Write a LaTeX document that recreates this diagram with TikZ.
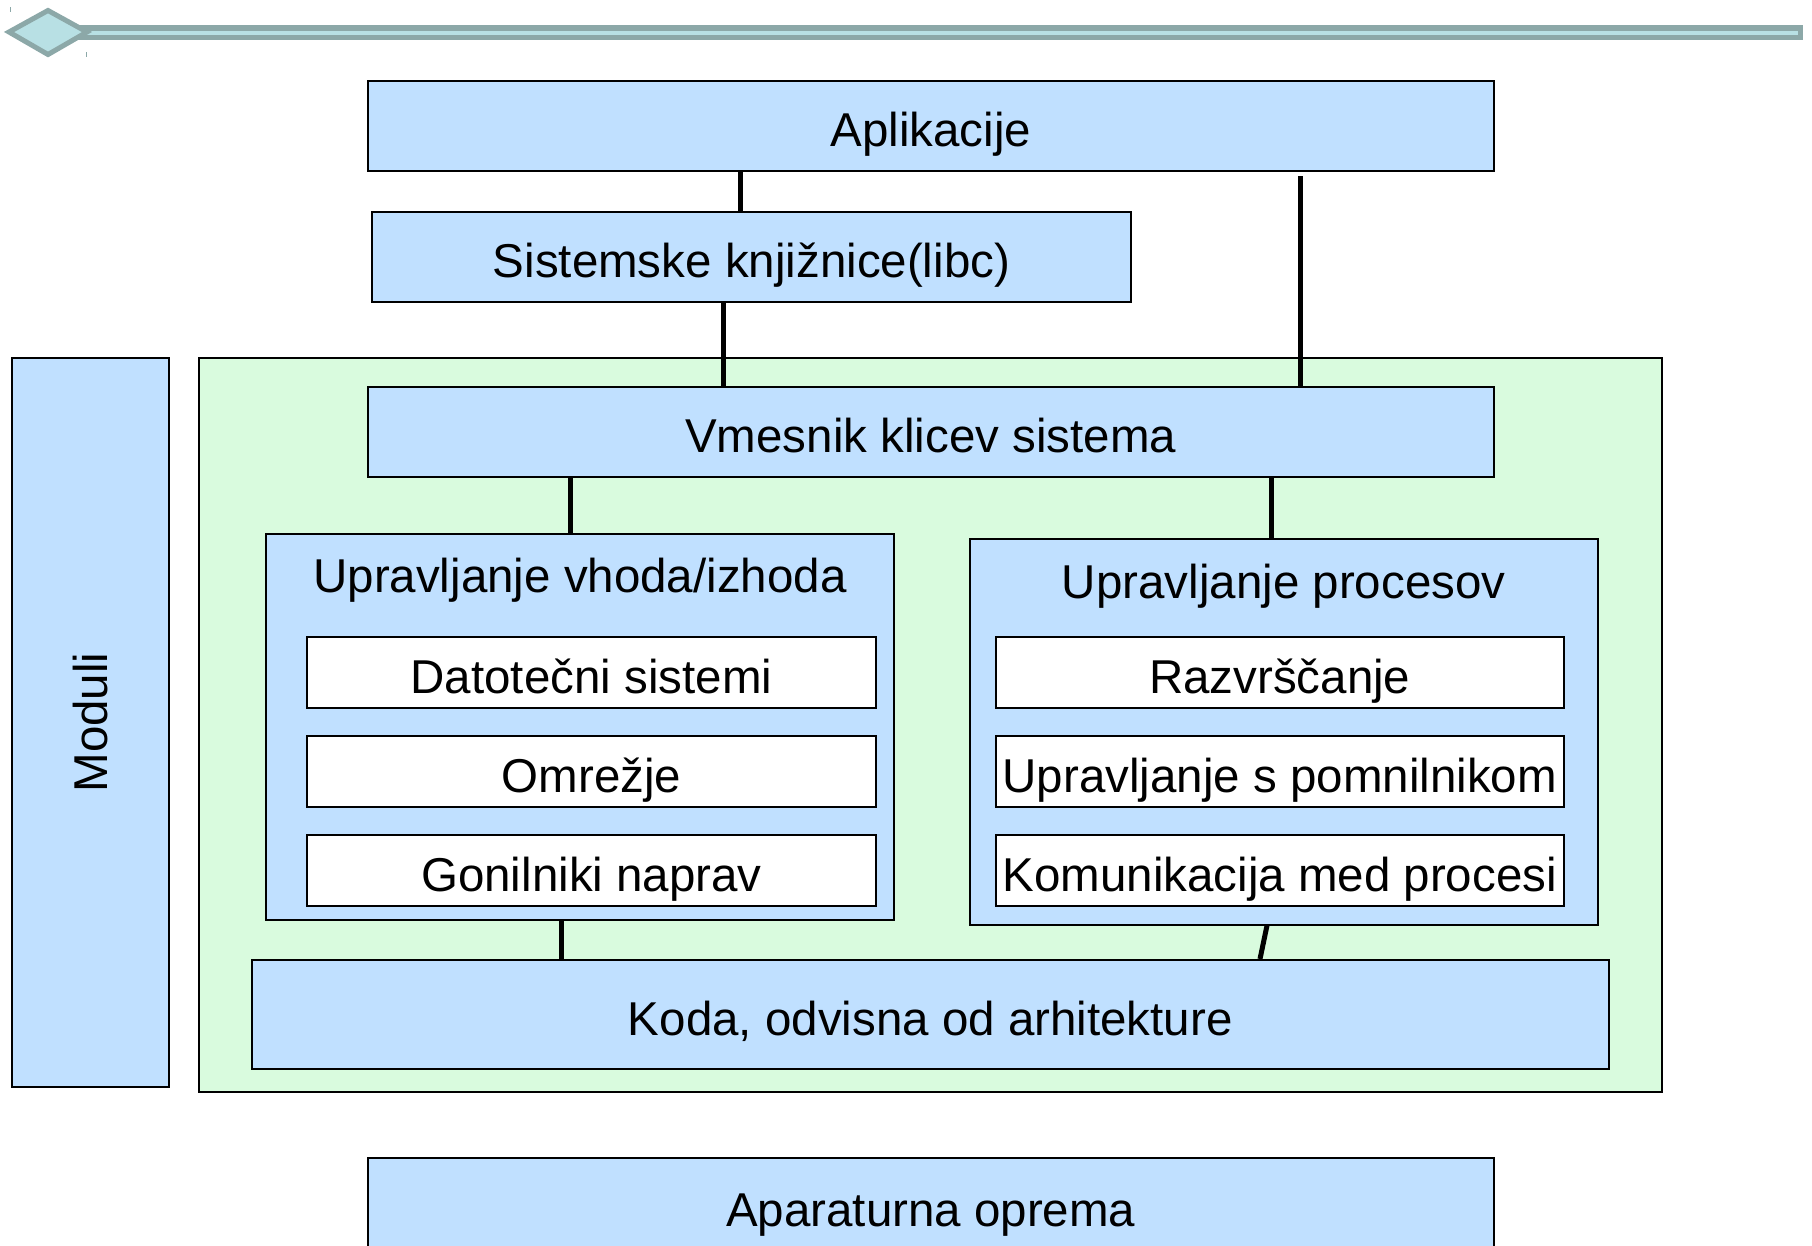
\documentclass[tikz,border=0pt]{standalone}
\usepackage{fontspec}
\setmainfont{Liberation Sans}
\usepackage{tikz}
\usetikzlibrary{positioning}
\usepackage{xcolor}
\definecolor{osblue}{RGB}{192,224,255}
\definecolor{osgreen}{RGB}{217,251,222}
\definecolor{osrule}{RGB}{140,168,168}
\definecolor{osruleLight}{RGB}{184,224,228}
\tikzstyle{layer} = [rectangle, draw=black, fill=osblue, line width=2pt, inner sep=0pt, text height=41pt, text depth=0pt, text centered]
\tikzstyle{module} = [rectangle, draw=black, fill=white, line width=2pt, inner sep=0pt, minimum height=71pt, text height=41pt, text depth=0pt, text centered]
\tikzstyle{link} = [line width=5pt, color=black]

\begin{document}
\begin{tikzpicture}[x=1pt, y=-1pt, node distance=26pt, font=\fontsize{47.5pt}{57pt}\selectfont]
\useasboundingbox (0,0) rectangle (1812,1245);
\clip (0,0) rectangle (1812,1245);
% Slide header
\fill[osrule] (75,25) rectangle (1803,40);
\fill[osruleLight] (80,31) rectangle (1798,35);
\draw[osrule, line width=5pt, fill=osruleLight] (9,32) -- (48,10.5) -- (87,32) -- (48,54.5) -- cycle;
\draw[osrule, line width=0.8pt] (10,7) -- (10,12);
\draw[osrule, line width=0.8pt] (86,52) -- (86,57);

% Kernel
\node (kernel) [rectangle, draw=black, fill=osgreen, line width=2.5pt, minimum width=1463pt, minimum height=734pt] at (930.5,725) {};
\node (moduli) [layer, minimum width=157.5pt, minimum height=729pt] at (90.25,722.5) {};
\node[rotate=90] at (moduli.center) {Moduli};

% Layers
\node (app) [layer, minimum width=1126.5pt, minimum height=90pt] at (930.75,126) {Aplikacije};
\node (libc) [layer, minimum width=759pt, minimum height=90pt] at (751.5,256.5) {Sistemske knjižnice(libc)};
\node (syscall) [layer, minimum width=1126.5pt, minimum height=90pt] at (930.75,432) {Vmesnik klicev sistema};

% I/O
\node (io) [layer, minimum width=628pt, minimum height=386pt] at (580,727) {};
\node at ([yshift=-47pt]io.north) {Upravljanje vhoda/izhoda};
\node (fs) [module, minimum width=569pt] at (591.5,672.5) {Datotečni sistemi};
\node (net) [module, minimum width=569pt, below=of fs] {Omrežje};
\node (drv) [module, minimum width=569pt, below=of net] {Gonilniki naprav};

% Processes
\node (proc) [layer, minimum width=628.5pt, minimum height=386pt] at (1283.75,731.5) {};
\node at ([yshift=-49pt]proc.north) {Upravljanje procesov};
\node (sched) [module, minimum width=567.5pt] at (1279.75,672.5) {Razvrščanje};
\node (mem) [module, minimum width=567.5pt, below=of sched] {Upravljanje s pomnilnikom};
\node (ipc) [module, minimum width=567.5pt, below=of mem] {Komunikacija med procesi};

\node (arch) [layer, minimum width=1356.5pt, minimum height=109pt] at (930.25,1014.5) {Koda, odvisna od arhitekture};
\node (hw) [layer, minimum width=1126.5pt, minimum height=96pt] at (930.75,1206) {Aparaturna oprema};

% Connectors
\draw[link] (app.south -| 740,0) -- (libc.north -| 740,0);
\draw[link] ([yshift=-4pt]app.south -| 1300,0) -- (syscall.north -| 1300,0);
\draw[link] (libc.south -| 723,0) -- (syscall.north -| 723,0);
\draw[link] (syscall.south -| 570,0) -- (io.north -| 570,0);
\draw[link] (syscall.south -| 1271,0) -- (proc.north -| 1271,0);
\draw[link] (io.south -| 561.5,0) -- (arch.north -| 561.5,0);
\draw[link] (proc.south -| 1267,0) -- (arch.north -| 1260,0);
\end{tikzpicture}
\end{document}
